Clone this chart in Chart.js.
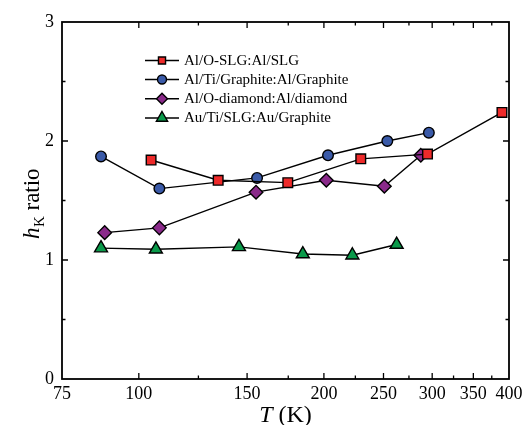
<!DOCTYPE html>
<html>
<head>
<meta charset="utf-8">
<script src="https://cdn.jsdelivr.net/npm/chart.js@4.4.1/dist/chart.umd.min.js"></script>
<style>
  html, body { margin: 0; padding: 0; background: #fff; }
</style>
</head>
<body>
<canvas id="myChart" width="523" height="425"></canvas>
<script>
// tick labels
const xTicks = [75, 100, 150, 200, 250, 300, 350, 400];
const xMinor = [125, 175, 225, 275, 325, 375];
const yTicks = [0, 1, 2, 3];
const yMinor = [0.5, 1.5, 2.5];

// series (T in K, h_K ratio)
const names = ['Al/O-SLG:Al/SLG', 'Al/Ti/Graphite:Al/Graphite', 'Al/O-diamond:Al/diamond', 'Au/Ti/SLG:Au/Graphite'];
const tSLG = [104.7, 134.6, 174.7, 229.6, 294.8, 389.6];
const hSLG = [1.84, 1.67, 1.65, 1.85, 1.89, 2.24];
const tGraphite = [86.8, 108.0, 155.7, 203.1, 253.6, 296.3];
const hGraphite = [1.87, 1.60, 1.69, 1.88, 2.00, 2.07];
const tDiamond = [88.0, 108.0, 155.1, 201.8, 250.8, 287.5];
const hDiamond = [1.23, 1.27, 1.57, 1.67, 1.62, 1.88];
const tAu = [86.8, 106.6, 145.5, 184.8, 222.5, 262.6];
const hAu = [1.10, 1.09, 1.11, 1.05, 1.04, 1.13];

const serif = '"Liberation Serif", "Times New Roman", serif';

const styles = [
    { color: '#ee2a2a', style: 'rect', r: 6.8, lr: 5 },
    { color: '#3a5aa8', style: 'circle', r: 5.3, lr: 4.5 },
    { color: '#8a2a8a', style: 'rectRot', r: 6.8, lr: 5.5 },
    { color: '#0a9a4a', style: 'triangle', r: 7.5, lr: 6.5 },
];

const xs = [tSLG, tGraphite, tDiamond, tAu];
const ys = [hSLG, hGraphite, hDiamond, hAu];

const datasets = names.map((name, i) => ({
    label: name,
    data: xs[i].map((t, j) => ({ x: t, y: ys[i][j] })),
    showLine: true,
    borderColor: '#000',
    borderWidth: 1.4,
    pointStyle: styles[i].style,
    pointRadius: styles[i].r,
    pointBackgroundColor: styles[i].color,
    pointBorderColor: '#000',
    pointBorderWidth: 1.4,
    clip: false,
}));

// frame, inward ticks, legend and axis titles
const decorations = {
    id: 'decorations',
    afterDraw(chart) {
        const ctx = chart.ctx;
        const a = chart.chartArea;
        const sx = chart.scales.x, sy = chart.scales.y;
        ctx.save();
        ctx.strokeStyle = '#000';
        ctx.lineWidth = 1.8;
        ctx.strokeRect(a.left, a.top, a.right - a.left, a.bottom - a.top);

        ctx.lineWidth = 1.3;
        ctx.beginPath();
        const xt = (v, len) => {
            const p = sx.getPixelForValue(v);
            ctx.moveTo(p, a.bottom); ctx.lineTo(p, a.bottom - len);
            ctx.moveTo(p, a.top); ctx.lineTo(p, a.top + len);
        };
        const yt = (v, len) => {
            const p = sy.getPixelForValue(v);
            ctx.moveTo(a.left, p); ctx.lineTo(a.left + len, p);
            ctx.moveTo(a.right, p); ctx.lineTo(a.right - len, p);
        };
        xTicks.slice(1, -1).forEach(v => xt(v, 6));
        xMinor.forEach(v => xt(v, 3.5));
        yTicks.slice(1, -1).forEach(v => yt(v, 6));
        yMinor.forEach(v => yt(v, 3.5));
        ctx.stroke();

        // legend
        const rows = [60.5, 79.5, 98.7, 118];
        ctx.font = '15px ' + serif;
        ctx.textBaseline = 'middle';
        ctx.fillStyle = '#000';
        rows.forEach((ry, i) => {
            ctx.beginPath();
            ctx.lineWidth = 1.4;
            ctx.moveTo(145, ry); ctx.lineTo(179, ry);
            ctx.stroke();
            ctx.fillStyle = styles[i].color;
            Chart.helpers.drawPoint(ctx, { pointStyle: styles[i].style, radius: styles[i].lr, rotation: 0, borderWidth: 1.3 }, 162, ry);
            ctx.fillStyle = '#000';
            ctx.fillText(names[i], 184, ry + 0.5);
        });

        // x title: T (K)
        ctx.textBaseline = 'alphabetic';
        ctx.font = 'italic 24px ' + serif;
        const wT = ctx.measureText('T').width;
        ctx.font = '24px ' + serif;
        const wK = ctx.measureText(' (K)').width;
        let x0 = 285.5 - (wT + wK) / 2;
        ctx.font = 'italic 24px ' + serif;
        ctx.fillText('T', x0, 422);
        ctx.font = '24px ' + serif;
        ctx.fillText(' (K)', x0 + wT, 422);

        // y title: h_K ratio
        ctx.translate(39, 204);
        ctx.rotate(-Math.PI / 2);
        ctx.font = 'italic 23px ' + serif;
        const wh = ctx.measureText('h').width;
        ctx.font = '15px ' + serif;
        const ws = ctx.measureText('K').width;
        ctx.font = '23px ' + serif;
        const wr = ctx.measureText(' ratio').width;
        let u = -(wh + ws + wr) / 2;
        ctx.font = 'italic 23px ' + serif;
        ctx.fillText('h', u, 0);
        ctx.font = '15px ' + serif;
        ctx.fillText('K', u + wh + 0.5, 5);
        ctx.font = '23px ' + serif;
        ctx.fillText(' ratio', u + wh + ws + 0.5, 0);
        ctx.restore();
    }
};

new Chart(document.getElementById('myChart'), {
    type: 'scatter',
    data: { datasets },
    options: {
        responsive: false,
        animation: false,
        devicePixelRatio: 1,
        layout: { padding: { left: 0, right: 14, top: 22, bottom: 0 } },
        scales: {
            x: {
                type: 'logarithmic',
                min: 75,
                max: 400,
                grid: { display: false, drawTicks: false },
                border: { display: false },
                afterBuildTicks: s => { s.ticks = xTicks.map(v => ({ value: v })); },
                afterFit: s => { s.height = 46; s.paddingLeft = 0; s.paddingRight = 0; },
                ticks: {
                    autoSkip: false,
                    maxRotation: 0,
                    padding: 4,
                    color: '#000',
                    font: { family: serif, size: 18 },
                    callback: v => String(v),
                },
            },
            y: {
                min: 0,
                max: 3,
                grid: { display: false, drawTicks: false },
                border: { display: false },
                afterBuildTicks: s => { s.ticks = yTicks.map(v => ({ value: v })); },
                afterFit: s => { s.width = 62; s.paddingTop = 0; s.paddingBottom = 0; },
                ticks: {
                    padding: 8,
                    color: '#000',
                    font: { family: serif, size: 18 },
                    callback: v => String(v),
                },
            },
        },
        plugins: {
            legend: { display: false },
            tooltip: { enabled: false },
        },
    },
    plugins: [decorations],
});
</script>
</body>
</html>
